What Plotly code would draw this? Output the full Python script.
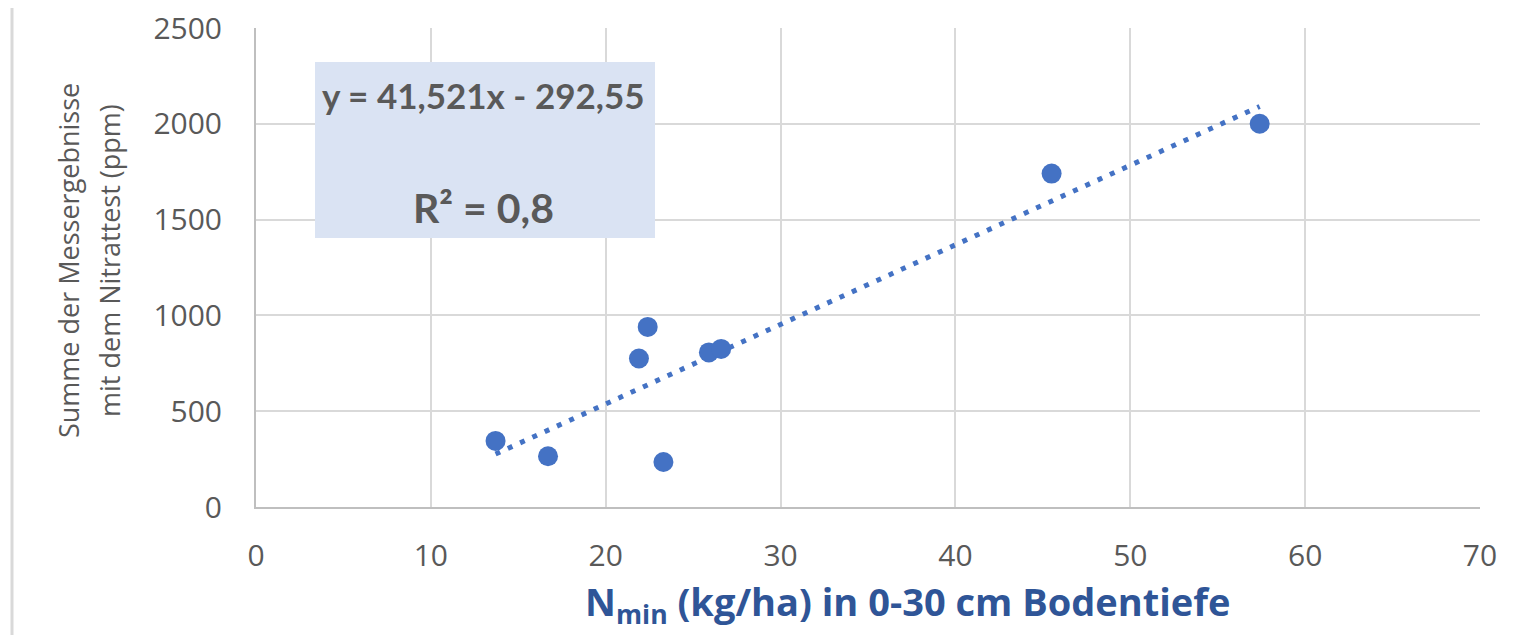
import plotly.graph_objects as go

# Data
nmin_kg_ha = [13.7, 16.7, 21.9, 22.4, 23.3, 25.9, 26.6, 45.5, 57.4]
nitrattest_ppm = [345, 265, 775, 940, 235, 807, 825, 1740, 2000]

# Trendline coefficients as printed on the chart
slope = 41.521
intercept = -292.55
r_squared_label = "R² = 0,8"
equation_label = "y = 41,521x - 292,55"

x_ticks = [0, 10, 20, 30, 40, 50, 60, 70]
y_ticks = [0, 500, 1000, 1500, 2000, 2500]

x_title = "N<sub>min</sub> (kg/ha) in 0-30 cm Bodentiefe"
y_title_line1 = "Summe der Messergebnisse"
y_title_line2 = "mit dem Nitrattest (ppm)"

trend_x = [min(nmin_kg_ha), max(nmin_kg_ha)]
trend_y = [slope * v + intercept for v in trend_x]

blue = "#4472C4"
gray_text = "#595959"
grid = "#D9D9D9"

fig = go.Figure()
fig.add_trace(go.Scatter(
    x=trend_x, y=trend_y, mode="lines",
    line=dict(color=blue, width=5, dash="5px,8.5px"),
    hoverinfo="skip", showlegend=False,
))
fig.add_trace(go.Scatter(
    x=nmin_kg_ha, y=nitrattest_ppm, mode="markers",
    marker=dict(color=blue, size=20, line=dict(width=0)),
    showlegend=False,
))

# Screen-space plot rectangle (browser body adds an 8px offset)
OFF = 8
SL, ST, SR, SB = 256, 28, 1480, 507
W, H = 1538 - OFF, 635 - OFF
L, T = SL - OFF, ST - OFF
R, B = W - (SR - OFF), H - (SB - OFF)
pw, ph = SR - SL, SB - ST

def px_x(px):
    return (px - SL) / pw

def px_y(py):
    return (SB - py) / ph

fig.update_layout(
    width=W, height=H,
    margin=dict(l=L, r=R, t=T, b=B, autoexpand=False),
    paper_bgcolor="white", plot_bgcolor="white",
    font=dict(family="Open Sans", color=gray_text),
    xaxis=dict(
        range=[0, 70], tickvals=x_ticks, showgrid=True, gridcolor=grid, gridwidth=2,
        zeroline=False, showline=True, linecolor="#BFBFBF", linewidth=2, mirror=False,
        tickfont=dict(family="Open Sans", size=30, color=gray_text),
        ticks="", ticklabelstandoff=21, ticklabeloverflow="allow",
    ),
    yaxis=dict(
        range=[0, 2500], tickvals=y_ticks, showgrid=True, gridcolor=grid, gridwidth=2,
        zeroline=False, showline=True, linecolor="#BFBFBF", linewidth=2,
        tickfont=dict(family="Open Sans", size=30, color=gray_text),
        ticks="", ticklabelstandoff=26, ticklabeloverflow="allow",
    ),
    shapes=[
        dict(type="line", xref="paper", yref="paper",
             x0=px_x(12), x1=px_x(12), y0=px_y(OFF), y1=px_y(640),
             line=dict(color=grid, width=3)),
        dict(type="rect", xref="paper", yref="paper",
             x0=px_x(315), x1=px_x(655), y0=px_y(238), y1=px_y(62),
             fillcolor="#DAE3F3", line=dict(width=0), layer="above"),
    ],
    annotations=[
        dict(text="<b>" + equation_label + "</b>", xref="paper", yref="paper",
             x=px_x(483), y=px_y(95), xanchor="center", yanchor="middle",
             showarrow=False, font=dict(family="Lato", size=35, color=gray_text)),
        dict(text="<b>" + r_squared_label + "</b>", xref="paper", yref="paper",
             x=px_x(483), y=px_y(207), xanchor="center", yanchor="middle",
             showarrow=False, font=dict(family="Lato", size=41, color=gray_text)),
        dict(text="<b>" + x_title + "</b>", xref="paper", yref="paper",
             x=px_x(907), y=px_y(603), xanchor="center", yanchor="middle",
             showarrow=False, font=dict(family="Open Sans", size=38, color="#2F5597")),
        dict(text=y_title_line1, xref="paper", yref="paper", textangle=-90,
             x=px_x(68), y=px_y(261), xanchor="center", yanchor="middle",
             showarrow=False, font=dict(family="Open Sans", size=27, color=gray_text)),
        dict(text=y_title_line2, xref="paper", yref="paper", textangle=-90,
             x=px_x(109), y=px_y(261), xanchor="center", yanchor="middle",
             showarrow=False, font=dict(family="Open Sans", size=27, color=gray_text)),
    ],
)

fig.write_html("out.html")
